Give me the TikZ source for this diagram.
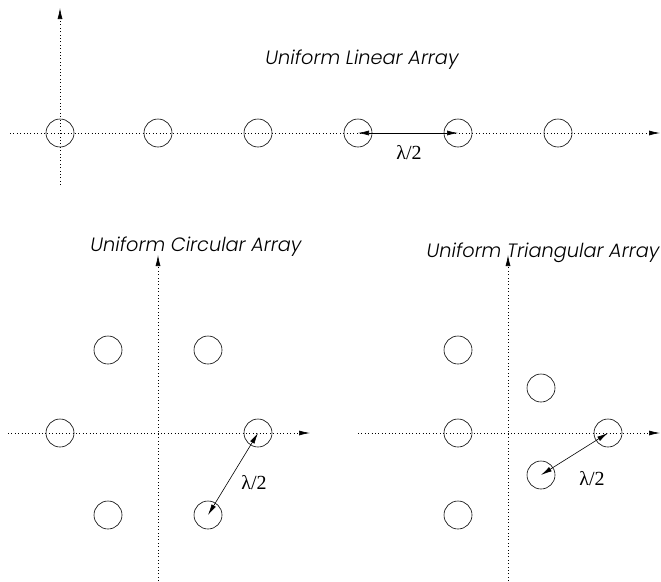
\documentclass[tikz,border=0pt]{standalone}
\usepackage{fontspec}
\setmainfont{Poppins}
\newfontfamily\titlefont{Poppins Light}[ItalicFont={Poppins Light Italic}]
\newfontfamily\lamfont{Liberation Serif}
\usetikzlibrary{arrows.meta}
\begin{document}
\begin{tikzpicture}[x=1pt,y=-1pt,
  elem/.style={circle,draw,line width=0.6pt,minimum size=28pt,inner sep=0pt},
  axis/.style={line width=0.7pt,dash pattern=on 0.8pt off 2.6pt,-{Latex[length=11pt,width=5pt]}},
  spacing/.style={line width=0.6pt,{Latex[length=11pt,width=5pt]}-{Latex[length=11pt,width=5pt]}},
  title/.style={font=\titlefont\itshape\fontsize{19.3}{22}\selectfont},
  lam/.style={font=\lamfont\fontsize{20}{22}\selectfont}]
\useasboundingbox (0,0) rectangle (661,581);

% linear array
\coordinate (l-w) at (10,133);
\coordinate (l-e) at (660,133);
\coordinate (l-s) at (60,185);
\coordinate (l-n) at (60,8);
\draw[axis] (l-w) -- (l-e);
\draw[axis] (l-s) -- (l-n);
\foreach \i/\x in {1/60,2/158,3/258,4/358,5/458,6/558}
  \node[elem] (u\i) at (\x,133) {};
\draw[spacing] (u4.center) -- (u5.center);
\node[lam] (lamA) at (409,153) {λ/2};
\node[title] (tA) at (362,60) {Uniform Linear Array};

% circular array
\coordinate (c-w) at (8,433);
\coordinate (c-e) at (310,433);
\coordinate (c-s) at (158,581);
\coordinate (c-n) at (158,255);
\draw[axis] (c-w) -- (c-e);
\draw[axis] (c-s) -- (c-n);
\node[elem] (c1) at (108,350) {};
\node[elem] (c2) at (208,350) {};
\node[elem] (c3) at (60,433) {};
\node[elem] (c4) at (258,433) {};
\node[elem] (c5) at (108,515) {};
\node[elem] (c6) at (208,515) {};
\draw[spacing] (c4.center) -- (c6.center);
\node[lam] (lamB) at (254,483) {λ/2};
\node[title] (tB) at (196,247) {Uniform Circular Array};

% triangular array
\coordinate (t-w) at (358,433);
\coordinate (t-e) at (660,433);
\coordinate (t-s) at (508,581);
\coordinate (t-n) at (508,255);
\draw[axis] (t-w) -- (t-e);
\draw[axis] (t-s) -- (t-n);
\node[elem] (t1) at (458,350) {};
\node[elem] (t2) at (541,388) {};
\node[elem] (t3) at (458,433) {};
\node[elem] (t4) at (608,433) {};
\node[elem] (t5) at (541,475) {};
\node[elem] (t6) at (458,515) {};
\draw[spacing] (t4.center) -- (t5.center);
\node[lam] (lamC) at (592,479) {λ/2};
\node[title] (tC) at (543,253) {Uniform Triangular Array};
\end{tikzpicture}
\end{document}
